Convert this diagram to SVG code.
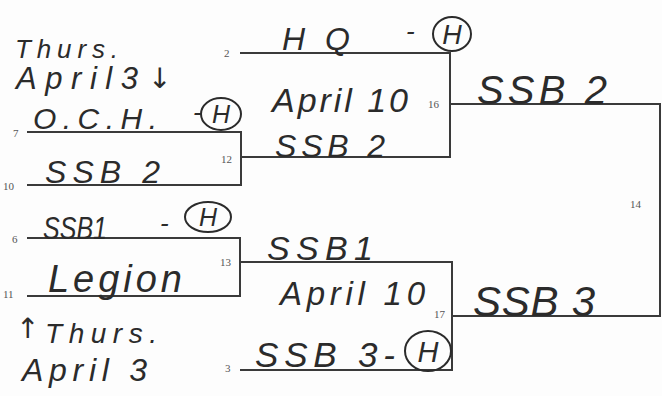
<svg xmlns="http://www.w3.org/2000/svg" width="662" height="396" viewBox="0 0 662 396">
<style>
.ln{fill:none;stroke:#3a3a3a;stroke-width:2}
.hw{font-family:"Liberation Sans","DejaVu Sans",sans-serif;fill:#2b2b2b;font-style:italic}
.ar{font-family:"DejaVu Sans",sans-serif;fill:#2b2b2b}
.num{font-family:"Liberation Serif","DejaVu Serif",serif;font-size:11px;fill:#555}
.circ{fill:none;stroke:#2b2b2b;stroke-width:2}
</style>
<rect width="662" height="396" fill="#fdfdfd"/>
<g id="connectors">
<path class="ln" d="M27 132H241V185H27"/>
<path class="ln" d="M27 238H240V296H27"/>
<path class="ln" d="M240 53H450V157H241"/>
<path class="ln" d="M240 262H452V370H240"/>
<path class="ln" d="M450 104H660V316H452"/>
</g>
<g id="seed-numbers">
<text class="num" x="224" y="57">2</text>
<text class="num" x="13" y="137">7</text>
<text class="num" x="3" y="190">10</text>
<text class="num" x="12" y="243">6</text>
<text class="num" x="3" y="298">11</text>
<text class="num" x="225" y="372">3</text>
<text class="num" x="221" y="163">12</text>
<text class="num" x="428" y="108">16</text>
<text class="num" x="220" y="266">13</text>
<text class="num" x="434" y="318">17</text>
<text class="num" x="630" y="208">14</text>
</g>
<g id="note-top">
<text class="hw" x="15" y="58" font-size="26" textLength="103" lengthAdjust="spacing">Thurs.</text>
<text class="hw" x="16" y="89" font-size="31" textLength="122" lengthAdjust="spacing">April3</text>
<text class="ar" x="148" y="88" font-size="28">↓</text>
</g>
<g id="team-och">
<text class="hw" x="33" y="129" font-size="30" textLength="124" lengthAdjust="spacing">O.C.H.</text>
<text class="hw" x="193" y="121" font-size="26">-</text>
<ellipse class="circ" cx="221" cy="114" rx="20" ry="16"/>
<text class="hw" x="221" y="123" font-size="25" text-anchor="middle">H</text>
</g>
<g id="team-ssb2-a">
<text class="hw" x="45" y="183" font-size="32" textLength="115" lengthAdjust="spacing">SSB 2</text>
</g>
<g id="team-hq">
<text class="hw" x="282" y="50" font-size="32" textLength="68" lengthAdjust="spacing">HQ</text>
<text class="hw" x="406" y="40" font-size="26">-</text>
<ellipse class="circ" cx="452" cy="34" rx="19" ry="17"/>
<text class="hw" x="452" y="44" font-size="27" text-anchor="middle">H</text>
</g>
<g id="match-16">
<text class="hw" x="272" y="112" font-size="34" textLength="136" lengthAdjust="spacing">April 10</text>
<text class="hw" x="275" y="157" font-size="32" textLength="110" lengthAdjust="spacing">SSB 2</text>
</g>
<g id="winner-16">
<text class="hw" x="477" y="104" font-size="40" textLength="130" lengthAdjust="spacing">SSB 2</text>
</g>
<g id="team-ssb1">
<text class="hw" x="43" y="239" font-size="31" textLength="64" lengthAdjust="spacingAndGlyphs">SSB1</text>
<text class="hw" x="160" y="232" font-size="26">-</text>
<ellipse class="circ" cx="208" cy="217" rx="23" ry="15"/>
<text class="hw" x="208" y="226" font-size="25" text-anchor="middle">H</text>
</g>
<g id="team-legion">
<text class="hw" x="48" y="292" font-size="38" textLength="134" lengthAdjust="spacing">Legion</text>
</g>
<g id="note-bottom">
<text class="ar" x="16" y="338" font-size="28">↑</text>
<text class="hw" x="45" y="343" font-size="28" textLength="112" lengthAdjust="spacing">Thurs.</text>
<text class="hw" x="22" y="381" font-size="32" textLength="125" lengthAdjust="spacing">April 3</text>
</g>
<g id="match-17">
<text class="hw" x="267" y="260" font-size="34" textLength="106" lengthAdjust="spacing">SSB1</text>
<text class="hw" x="280" y="305" font-size="33" textLength="145" lengthAdjust="spacing">April 10</text>
</g>
<g id="team-ssb3">
<text class="hw" x="255" y="367" font-size="35" textLength="140" lengthAdjust="spacing">SSB 3-</text>
<ellipse class="circ" cx="428" cy="351" rx="23" ry="20"/>
<text class="hw" x="428" y="362" font-size="29" text-anchor="middle">H</text>
</g>
<g id="winner-17">
<text class="hw" x="473" y="316" font-size="42" textLength="122" lengthAdjust="spacing">SSB 3</text>
</g>
</svg>
